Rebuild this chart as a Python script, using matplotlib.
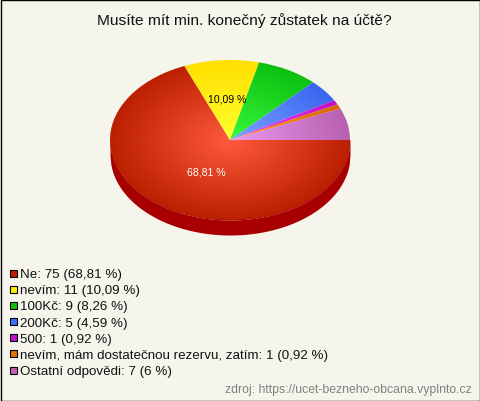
import numpy as np
import matplotlib
matplotlib.use('Agg')
from matplotlib import pyplot as plt
from matplotlib.colors import LinearSegmentedColormap
from matplotlib.patches import Rectangle

plt.rcParams['font.family'] = ['Liberation Sans', 'DejaVu Sans']

title = 'Musíte mít min. konečný zůstatek na účtě?'
source = 'zdroj: https://ucet-bezneho-obcana.vyplnto.cz'

names = ['Ne', 'nevím', '100Kč', '200Kč', '500',
         'nevím, mám dostatečnou rezervu, zatím', 'Ostatní odpovědi']
counts = [75, 11, 9, 5, 1, 1, 7]
percents = ['68,81', '10,09', '8,26', '4,59', '0,92', '0,92', '6']

# inner / outer colour of the radial gradient, plus legend swatch
inner = ['#ff5a3c', '#ffff30', '#38f83c', '#7aa2ff', '#ff40ff', '#ff9a20', '#eb9aef']
outer = ['#bb2000', '#ffe000', '#0cc010', '#3a66f0', '#c010c8', '#d86800', '#b860b0']
swatch = ['#c02000', '#ffee00', '#10c010', '#4070ff', '#c010d0', '#e07000', '#c060b0']

W, H = 480, 402
BG = '#f5f5ec'
cx, cy, rx, ry = 230, 141, 120, 80
depth = 15

fig = plt.figure(figsize=(W/100, H/100), dpi=100, facecolor=BG)

# pie axes covers just the ellipse + the side, -1..1 is the radius
ax = fig.add_axes([(cx-rx)/W, 1-(cy+ry+depth)/H, 2*rx/W, (2*ry+depth)/H])
wedges, _ = ax.pie(counts, startangle=0, counterclock=False, radius=1,
                   wedgeprops=dict(linewidth=0))
ax.set_aspect('auto')

# side of the "3d" pie
xs = np.linspace(-1, 1, 300)
lower = -np.sqrt(1-xs**2)
ax.fill_between(xs, lower-depth/ry, lower, color='#a80000', lw=0, zorder=0)
ax.fill_between(xs, lower, 0, color='#a80000', lw=0, zorder=0)

# radial gradient, clipped to each wedge
g = np.linspace(-1, 1, 500)
gx, gy = np.meshgrid(g, g)
dist = np.sqrt(gx**2+gy**2)
for w, c0, c1 in zip(wedges, inner, outer):
    w.set_alpha(0)
    cmap = LinearSegmentedColormap.from_list('g', [c0, c1])
    im = ax.imshow(dist, cmap=cmap, vmin=0, vmax=1, extent=(-1, 1, -1, 1),
                   aspect='auto', zorder=2, interpolation='bilinear')
    im.set_clip_path(w.get_path(), w.get_transform())
ax.set_xlim(-1, 1)
ax.set_ylim(-1-depth/ry, 1)
ax.axis('off')

# overlay for texts, frame and legend in pixels
ov = fig.add_axes([0, 0, 1, 1], facecolor='none')
ov.set_xlim(0, W)
ov.set_ylim(H, 0)
ov.axis('off')

ov.add_patch(Rectangle((0.5, 0.5), W-1, H-1, fc='none', ec='black', lw=1))
ov.text(244, 21, title, ha='center', va='center', fontsize=11.15, color='#111111')
ov.text(227, 99, percents[1]+' %', ha='center', va='center', fontsize=7.6, color='black')
ov.text(206.5, 172.5, percents[0]+' %', ha='center', va='center', fontsize=7.6, color='white')

for i, (n, c, p) in enumerate(zip(names, counts, percents)):
    y = 274 + i*16.17
    ov.add_patch(Rectangle((9.5, y-3.5), 7, 7, fc=swatch[i], ec='black', lw=0.8))
    ov.text(20, y+1, f'{n}: {c} ({p} %)', ha='left', va='center', fontsize=9.6, color='#111111')

ov.text(471.5, 390, source, ha='right', va='center', fontsize=8.8, color='#808080')

fig.savefig('out.png', dpi=100, facecolor=BG)
